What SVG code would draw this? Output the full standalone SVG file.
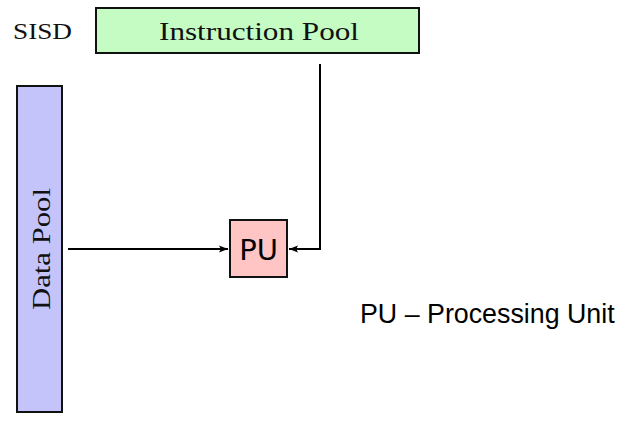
<svg xmlns="http://www.w3.org/2000/svg" width="624" height="431" viewBox="0 0 624 431">
<style>
.box{stroke:#111;stroke-width:2}
.serif{font-family:"Liberation Serif","DejaVu Serif",serif;fill:#111}
.conn{fill:none;stroke:#000;stroke-width:2}
</style>
<defs>
<marker id="ah" viewBox="0 0 10 10" refX="10" refY="5" markerWidth="9" markerHeight="9" orient="auto" markerUnits="userSpaceOnUse">
<path d="M0,1 L10,5 L0,9 L2,5 Z" fill="#000"/>
</marker>
</defs>
<rect width="624" height="431" fill="#fff"/>
<g id="sisd-label">
<text class="serif" x="13" y="39" font-size="23" textLength="59" lengthAdjust="spacingAndGlyphs">SISD</text>
</g>
<g id="instruction-pool">
<rect class="box" x="96" y="8" width="323" height="45" fill="#c4fcc4"/>
<text class="serif" x="159" y="40" font-size="25" textLength="200" lengthAdjust="spacingAndGlyphs">Instruction Pool</text>
</g>
<g id="data-pool">
<rect class="box" x="17" y="86" width="45" height="326" fill="#c4c4fa"/>
<text class="serif" transform="translate(50,310) rotate(-90)" x="0" y="0" font-size="25" textLength="122" lengthAdjust="spacingAndGlyphs">Data Pool</text>
</g>
<g id="pu">
<rect class="box" x="230" y="220" width="57" height="57" fill="#ffc4c4"/>
<text x="258.5" y="260" font-family="DejaVu Sans, sans-serif" font-size="29" text-anchor="middle" fill="#000">PU</text>
</g>
<g id="connectors">
<path class="conn" d="M68,249 H228" marker-end="url(#ah)"/>
<path class="conn" d="M320,64 V249 H289" marker-end="url(#ah)"/>
</g>
<g id="legend">
<text x="360" y="323" font-family="Liberation Sans, Arial, sans-serif" font-size="26.8" fill="#000">PU – Processing Unit</text>
</g>
</svg>
